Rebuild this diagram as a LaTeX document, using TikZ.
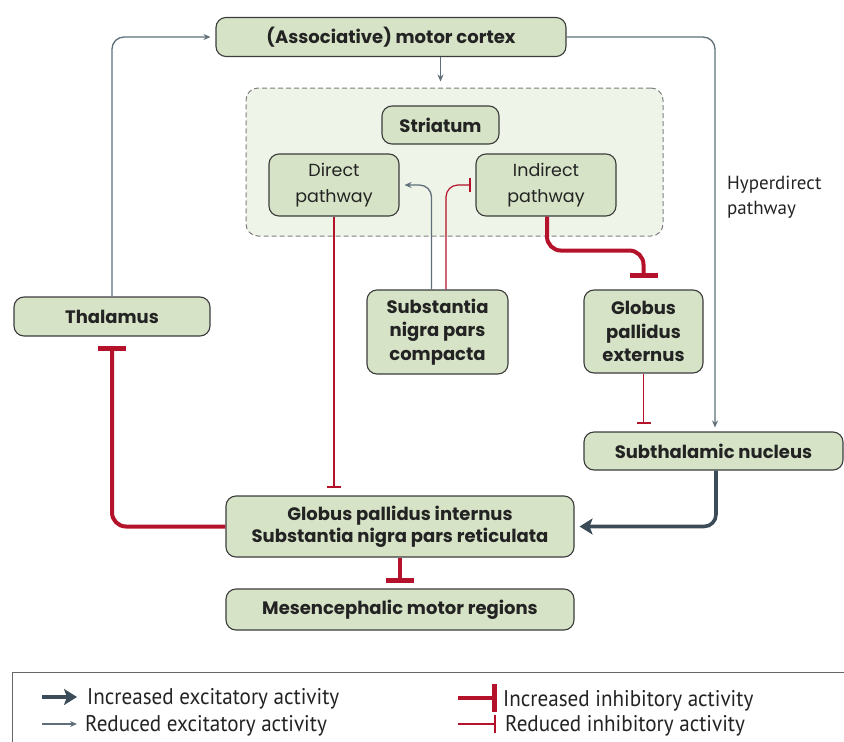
\documentclass[tikz,border=0pt]{standalone}
\usepackage{fontspec}
\setmainfont{Poppins}
\newfontfamily\legfont[FakeStretch=0.93]{PT Sans}
\newfontfamily\hypfont{PT Sans}
\usetikzlibrary{arrows.meta,calc}
\definecolor{boxfill}{RGB}{214,227,198}
\definecolor{contfill}{RGB}{239,244,232}
\definecolor{boxdraw}{RGB}{60,60,60}
\definecolor{inhred}{RGB}{180,18,42}
\definecolor{excdark}{RGB}{59,76,88}
\definecolor{excthin}{RGB}{95,111,122}
\definecolor{txt}{RGB}{35,35,35}
\tikzset{
  box/.style={draw=boxdraw, fill=boxfill, rounded corners=10pt, line width=1.1pt,
    font=\bfseries\fontsize{18}{22}\selectfont, align=center, inner sep=0pt, text=txt},
  rbox/.style={box, font=\fontsize{17.5}{26}\selectfont},
  excthick/.style={draw=excdark, line width=3.6pt, rounded corners=12pt, -{Stealth[length=13pt,width=16pt,inset=3pt]}},
  excthinline/.style={draw=excthin, line width=1.3pt, rounded corners=12pt, -{Stealth[length=7pt,width=6pt]}},
  inhthick/.style={draw=inhred, line width=4pt, rounded corners=14pt, -{Bar[width=28pt,line width=5pt]}},
  inhthin/.style={draw=inhred, line width=1.2pt, rounded corners=12pt, -{Bar[width=14pt,line width=2pt]}},
  legtext/.style={anchor=west, font=\legfont\fontsize{22.7}{23}\selectfont, text=txt, inner sep=0pt}
}
\begin{document}
\begin{tikzpicture}[x=1pt,y=-1pt]
\useasboundingbox (0,0) rectangle (844,742);

% container
\node[draw=gray, dashed, line width=1pt, dash pattern=on 5pt off 3pt, fill=contfill, rounded corners=12pt,
  minimum width=417pt, minimum height=148pt, inner sep=0pt] (cont) at (454.5,162) {};

% boxes
\node[box, minimum width=350pt, minimum height=39pt] (cortex) at (391,37) {(Associative) motor cortex};
\node[box, minimum width=117pt, minimum height=38pt] (striatum) at (440.5,125) {Striatum};
\node[rbox, minimum width=130pt, minimum height=62pt] (dir) at (334,185) {Direct\\pathway};
\node[rbox, minimum width=140pt, minimum height=62pt] (ind) at (546,185) {Indirect\\pathway};
\node[box, minimum width=196pt, minimum height=39pt] (thal) at (112,316.5) {Thalamus};
\node[box, minimum width=141pt, minimum height=84pt, font=\bfseries\fontsize{18}{23.5}\selectfont] (snc) at (437.5,332) {Substantia\\nigra pars\\compacta};
\node[box, minimum width=119pt, minimum height=83pt, font=\bfseries\fontsize{18}{23.5}\selectfont] (gpe) at (643.5,331.5) {Globus\\pallidus\\externus};
\node[box, minimum width=259pt, minimum height=38pt] (stn) at (713.5,451) {Subthalamic nucleus};
\node[box, minimum width=348pt, minimum height=61pt] (gpi) at (400,526.5) {Globus pallidus internus\\Substantia nigra pars reticulata};
\node[box, minimum width=348pt, minimum height=41pt] (mes) at (400,609.5) {Mesencephalic motor regions};

\node[anchor=west, align=left, font=\hypfont\fontsize{19}{25}\selectfont, text=txt, inner sep=0pt] (hyper) at (727,197) {Hyperdirect\\pathway};

% connectors
\draw[excthinline, shorten >=6pt] (striatum.north |- cortex.south) -- (striatum.north |- cont.north);
\draw[excthinline, shorten >=5pt] (thal.north) |- (cortex.west);
\draw[excthinline, shorten >=4pt] (cortex.east) -| ($(stn.north)+(1.5,0)$);
\draw[excthinline, shorten >=5pt] ($(snc.north)+(-6,0)$) |- (dir.east);
\draw[inhthin, shorten >=4pt] ($(snc.north)+(8.5,0)$) |- (ind.west);
\draw[inhthick, shorten >=11pt] ($(ind.south)+(1,0)$) -- ++(0,34) -| (gpe.north);
\draw[inhthin, shorten >=7pt] (dir.south) -- (dir.south |- gpi.north);
\draw[inhthin, shorten >=7pt] (gpe.south) -- (gpe.south |- stn.north);
\draw[excthick, shorten >=5pt] ($(stn.south)+(2.5,0)$) |- (gpi.east);
\draw[inhthick, shorten >=9pt] (gpi.west) -| (thal.south);
\draw[inhthick, shorten >=5pt] (gpi.south) -- (mes.north);

% legend
\node[draw=gray!80!black, line width=1.2pt, minimum width=850pt, minimum height=90pt, inner sep=0pt, anchor=north west] (legend) at (12,672) {};
\coordinate (la1) at (42,697); \coordinate (lb1) at (77,697);
\coordinate (la2) at (42,724); \coordinate (lb2) at (77,724);
\coordinate (lc1) at (458,698); \coordinate (ld1) at (497,698);
\coordinate (lc2) at (458,724); \coordinate (ld2) at (496,724);
\draw[excthick] (la1) -- (lb1);
\draw[excthinline] (la2) -- (lb2);
\draw[inhthick] (lc1) -- (ld1);
\draw[inhthin, -{Bar[width=18pt,line width=2pt]}] (lc2) -- (ld2);
\node[legtext] (t1) at (87,699) {Increased excitatory activity};
\node[legtext] (t2) at (85,726) {Reduced excitatory activity};
\node[legtext] (t3) at (503,701) {Increased inhibitory activity};
\node[legtext] (t4) at (505,726) {Reduced inhibitory activity};
\end{tikzpicture}
\end{document}
